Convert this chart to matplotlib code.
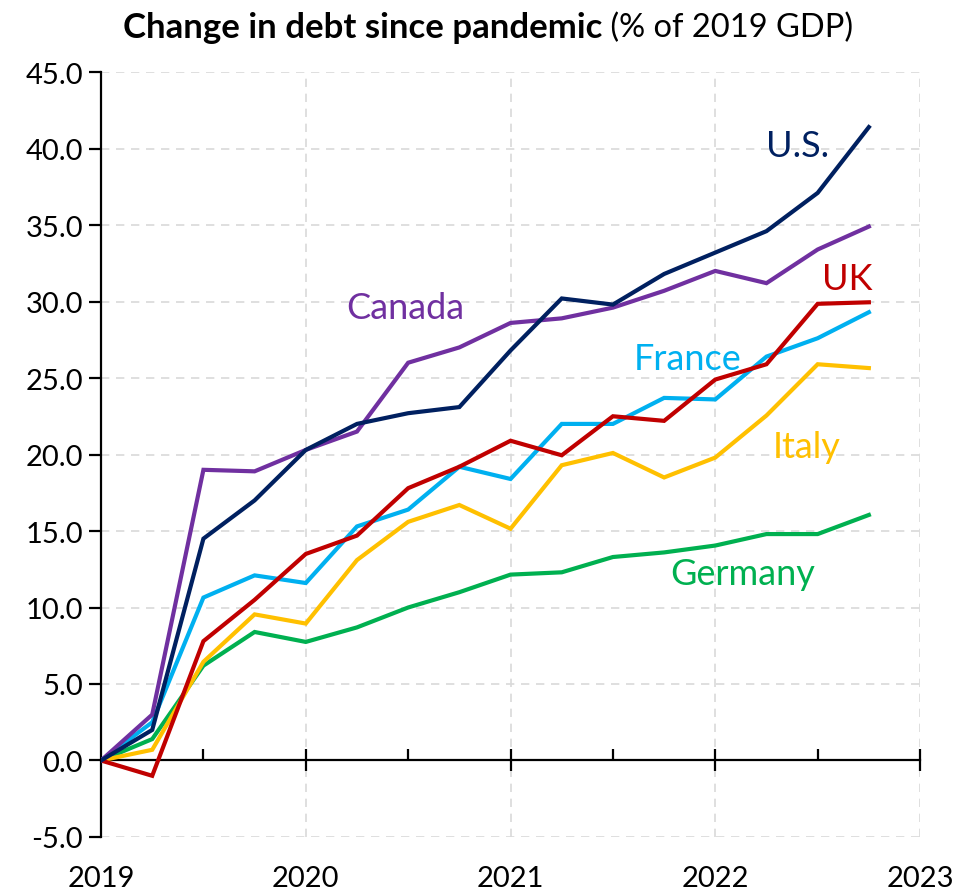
import matplotlib.pyplot as plt
import numpy as np

plt.rcParams['font.family'] = ['Lato', 'DejaVu Sans']

# quarterly change in debt, % of 2019 GDP (2019Q4 = 0)
quarters = np.arange(16) * 0.25 + 2019
us      = [0, 2.0, 14.5, 17.0, 20.3, 22.0, 22.7, 23.1, 26.8, 30.2, 29.8, 31.8, 33.2, 34.6, 37.1, 41.4]
canada  = [0, 3.0, 19.0, 18.9, 20.3, 21.5, 26.0, 27.0, 28.6, 28.9, 29.6, 30.7, 32.0, 31.2, 33.4, 34.9]
uk      = [0, -1.0, 7.8, 10.5, 13.5, 14.7, 17.8, 19.2, 20.9, 19.95, 22.5, 22.2, 24.9, 25.9, 29.85, 29.95]
france  = [0, 2.5, 10.65, 12.1, 11.6, 15.3, 16.4, 19.2, 18.4, 22.0, 22.0, 23.7, 23.6, 26.4, 27.6, 29.3]
italy   = [0, 0.7, 6.45, 9.55, 8.95, 13.1, 15.6, 16.7, 15.15, 19.3, 20.1, 18.5, 19.8, 22.55, 25.9, 25.65]
germany = [0, 1.4, 6.2, 8.4, 7.75, 8.7, 10.0, 11.0, 12.15, 12.3, 13.3, 13.6, 14.05, 14.8, 14.8, 16.05]

series = [
    ('Germany', germany, '#00B050', (2021.78, 12.2)),
    ('Italy',   italy,   '#FFC000', (2022.28, 20.5)),
    ('France',  france,  '#00B0F0', (2021.6, 26.3)),
    ('UK',      uk,      '#C00000', (2022.52, 31.5)),
    ('Canada',  canada,  '#7030A0', (2020.2, 29.6)),
    ('U.S.',    us,      '#002060', (2022.25, 40.2)),
]

fig = plt.figure(figsize=(9.55, 8.95), dpi=100)
ax = fig.add_axes([0.1058, 0.0637, 0.8576, 0.8547])

for name, vals, col, (lx, ly) in series:
    ax.plot(quarters, vals, color=col, lw=3.0, solid_joinstyle='miter', zorder=3)
    ax.text(lx, ly, name, color=col, fontsize=26, ha='left', va='center')

ax.set_xlim(2019, 2023)
ax.set_ylim(-5, 45)

# gridlines
ax.set_yticks(np.arange(-5, 46, 5))
ax.set_yticklabels([f'{v:.1f}' for v in np.arange(-5, 46, 5)], fontsize=21)
for v in np.arange(-5, 46, 5):
    if v != 0:
        ax.axhline(v, color='#D9D9D9', lw=1.2, ls=(0, (5, 4)), zorder=1)
for yr in [2020, 2021, 2022, 2023]:
    ax.axvline(yr, color='#D9D9D9', lw=1.2, ls=(0, (5, 4)), zorder=1)

ax.spines['top'].set_visible(False)
ax.spines['right'].set_visible(False)
ax.spines['left'].set_linewidth(1.6)
ax.spines['bottom'].set_position(('data', 0))
ax.spines['bottom'].set_linewidth(1.6)
ax.spines['bottom'].set_zorder(2)

ax.tick_params(axis='y', direction='out', length=9, width=1.6, pad=4)
ax.set_xticks([2020, 2021, 2022, 2023])
ax.set_xticks([2019.5, 2020.5, 2021.5, 2022.5], minor=True)
ax.tick_params(axis='x', which='major', direction='inout', length=16, width=1.6, labelbottom=False)
ax.tick_params(axis='x', which='minor', direction='in', length=8, width=1.6)

# year labels sit below the plot area
sec = ax.secondary_xaxis('bottom')
sec.set_xticks([2019, 2020, 2021, 2022, 2023])
sec.set_xticklabels(['2019', '2020', '2021', '2022', '2023'], fontsize=21)
sec.tick_params(length=0, pad=20)
sec.spines['bottom'].set_visible(False)

# title: bold part plus regular part, centred together
t1 = fig.text(0, 0.969, 'Change in debt since pandemic', fontsize=25, fontweight='bold', va='center')
t2 = fig.text(0, 0.969, ' (% of 2019 GDP)', fontsize=23.5, va='center')
fig.canvas.draw()
r = fig.canvas.get_renderer()
w1 = t1.get_window_extent(r).width / fig.bbox.width
w2 = t2.get_window_extent(r).width / fig.bbox.width
x0 = 0.511 - (w1 + w2) / 2
t1.set_x(x0)
t2.set_x(x0 + w1)

fig.savefig('out.png', dpi=100)
